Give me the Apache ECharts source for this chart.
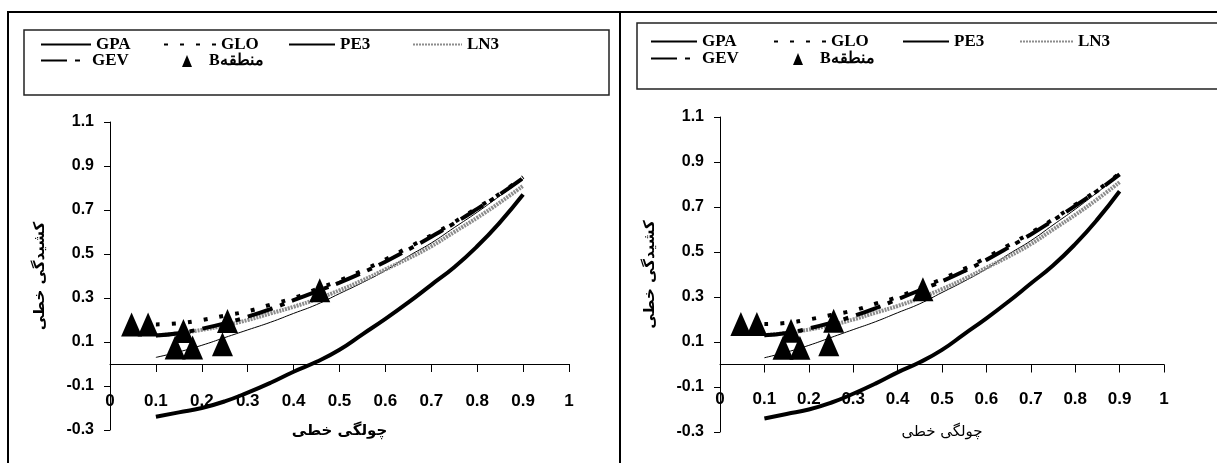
<!DOCTYPE html>
<html><head><meta charset="utf-8">
<script src="https://cdn.jsdelivr.net/npm/echarts@6/dist/echarts.min.js"></script>
<style>html,body{margin:0;padding:0;background:#fff}#c{width:1217px;height:463px}</style>
</head><body><div id="c"></div>
<script>
// L-skewness values along the theoretical curves
const skew = [0.1,0.15,0.2,0.25,0.3,0.35,0.4,0.45,0.5,0.55,0.6,0.65,0.7,0.75,0.8,0.85,0.9];
// L-kurtosis
const GPA = [0.03,0.055,0.085,0.12,0.155,0.19,0.23,0.27,0.32,0.37,0.425,0.49,0.55,0.62,0.69,0.765,0.84];
const GLO = [0.18,0.185,0.2,0.22,0.24,0.27,0.3,0.34,0.38,0.425,0.475,0.53,0.585,0.645,0.71,0.775,0.85];
const PE3 = [-0.24,-0.22,-0.2,-0.17,-0.13,-0.085,-0.035,0.01,0.065,0.135,0.205,0.28,0.36,0.44,0.535,0.645,0.77];
const LN3 = [0.13,0.14,0.155,0.175,0.2,0.23,0.26,0.295,0.335,0.38,0.43,0.48,0.535,0.6,0.665,0.735,0.81];
const GEV = [0.13,0.14,0.16,0.185,0.215,0.25,0.29,0.33,0.37,0.415,0.465,0.52,0.578,0.64,0.705,0.772,0.845];
// Region B stations
const regionBSkew = [0.047,0.083,0.16,0.142,0.18,0.256,0.245,0.457];
const regionBKurt = [0.18,0.18,0.15,0.075,0.075,0.195,0.09,0.335];
// labels
const curveNames = ['GPA','GLO','PE3','LN3','GEV'];
const pointName = 'Bمنطقه';
const xAxisTitle = 'چولگی خطی';
const yAxisTitle = 'کشیدگی خطی';

const curveData = {GPA, GLO, PE3, LN3, GEV};
const curveStyles = {
  GPA: {color:'#000', width:1, type:'solid'},
  GLO: {color:'#000', width:4, type:[4,12]},
  PE3: {color:'#000', width:4, type:'solid'},
  LN3: {color:'#8c8c8c', width:4, type:[2,1]},
  GEV: {color:'#000', width:4, type:[26,8,5,8]}
};

const panels = [
  {grid:{left:110, top:122, width:459, height:308}, xMargin:-37, yNameGap:62, xNameGap:-6, xNameWeight:'bold',
   rows:[43,59], lx:{GPA:40,GLO:163,PE3:288,LN3:412,GEV:40,B:182}, lw:{GPA:50,GLO:52,PE3:46,LN3:49,GEV:46}},
  {grid:{left:720, top:117, width:444, height:315}, xMargin:-41, yNameGap:62, xNameGap:-7, xNameWeight:'normal',
   rows:[40,57], lx:{GPA:650,GLO:773,PE3:902,LN3:1019,GEV:650,B:793}, lw:{GPA:46,GLO:52,PE3:46,LN3:53,GEV:46}}
];

const fmt = v => String(Math.round(v*10)/10);
const legendText = {fontFamily:'Liberation Serif', fontWeight:'bold', fontSize:17, color:'#000'};

const grid=[], xAxis=[], yAxis=[], series=[], legend=[];
panels.forEach((p,i)=>{
  grid.push(Object.assign({containLabel:false, outerBoundsMode:'none'}, p.grid));
  xAxis.push({
    type:'value', gridIndex:i, min:0, max:1, interval:0.1,
    axisLine:{onZero:true, lineStyle:{color:'#000', width:1}},
    axisTick:{show:true, inside:false, length:8, lineStyle:{color:'#000'}},
    axisLabel:{formatter:fmt, margin:p.xMargin, color:'#000', fontFamily:'Liberation Sans', fontWeight:'bold', fontSize:17, showMinLabel:true, showMaxLabel:true},
    splitLine:{show:false},
    name:xAxisTitle, nameLocation:'middle', nameGap:p.xNameGap,
    nameTextStyle:{fontFamily:'DejaVu Sans', fontWeight:p.xNameWeight, fontSize:15, color:'#000'}
  });
  yAxis.push({
    type:'value', gridIndex:i, min:-0.3, max:1.1, interval:0.2,
    axisLine:{show:true, onZero:false, lineStyle:{color:'#000', width:1}},
    axisTick:{show:true, inside:false, length:6, lineStyle:{color:'#000'}},
    axisLabel:{formatter:fmt, margin:16, color:'#000', fontFamily:'Liberation Sans', fontWeight:'bold', fontSize:16},
    splitLine:{show:false},
    name:yAxisTitle, nameLocation:'middle', nameGap:p.yNameGap, nameRotate:90,
    nameTextStyle:{fontFamily:'DejaVu Sans', fontWeight:'bold', fontSize:15, color:'#000'}
  });
  curveNames.forEach(n=>{
    const s = curveStyles[n];
    series.push({
      type:'line', name:n, xAxisIndex:i, yAxisIndex:i, smooth:true, symbol:'none', showSymbol:false,
      lineStyle:{color:s.color, width:s.width, type:s.type},
      itemStyle:{color:s.color},
      data: skew.map((x,k)=>[x, curveData[n][k]]),
      z:2
    });
  });
  series.push({
    type:'scatter', name:pointName, xAxisIndex:i, yAxisIndex:i, symbol:'triangle', symbolSize:[21,24],
    itemStyle:{color:'#000', opacity:1}, z:5,
    data: regionBSkew.map((x,k)=>[x, regionBKurt[k]])
  });
  // legends
  const items = [['GPA',0],['GLO',0],['PE3',0],['LN3',0],['GEV',1]];
  items.forEach(([n,r])=>{
    legend.push({show:true, selectedMode:false, padding:0, left:p.lx[n], top:p.rows[r]-7,
      itemWidth:p.lw[n], itemHeight:14, data:[n], itemStyle:{opacity:0}, textStyle:legendText});
  });
  legend.push({show:true, selectedMode:false, padding:0, left:p.lx.B, top:p.rows[1]-6,
    itemWidth:10, itemHeight:12, data:[pointName], itemStyle:{opacity:1},
    textStyle:Object.assign({}, legendText, {padding:[0,0,0,12], fontSize:16})});
});

const graphic = [
  {type:'rect', shape:{x:8,y:12,width:612,height:470}, style:{fill:null, stroke:'#000', lineWidth:2}, silent:true},
  {type:'rect', shape:{x:620,y:12,width:620,height:470}, style:{fill:null, stroke:'#000', lineWidth:2}, silent:true},
  {type:'rect', shape:{x:24,y:30,width:585,height:65}, style:{fill:null, stroke:'#222', lineWidth:1.5}, silent:true},
  {type:'rect', shape:{x:637,y:23,width:600,height:66}, style:{fill:null, stroke:'#222', lineWidth:1.5}, silent:true}
];

const chart = echarts.init(document.getElementById('c'));
chart.setOption({animation:false, backgroundColor:'#fff', grid, xAxis, yAxis, series, legend, graphic});
</script></body></html>
